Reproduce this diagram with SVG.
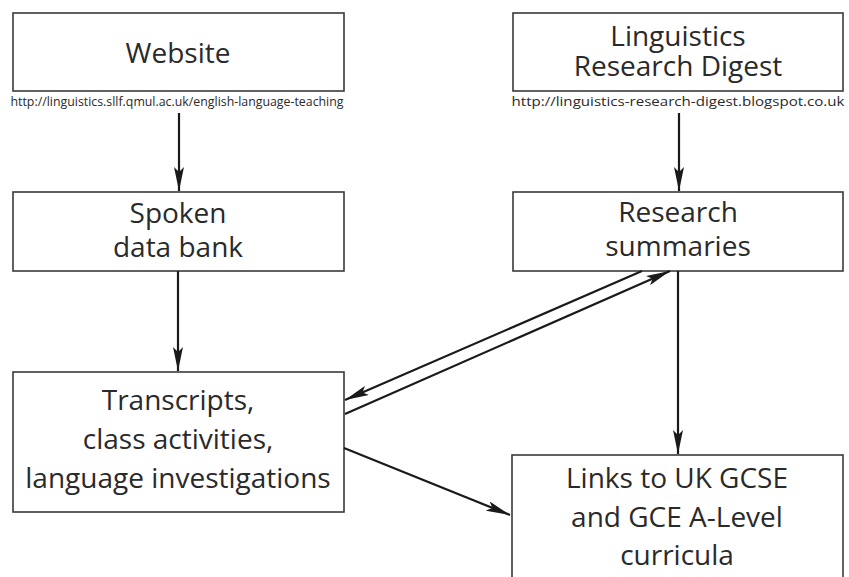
<svg xmlns="http://www.w3.org/2000/svg" width="849" height="577" viewBox="0 0 849 577">
<style>
.box{fill:#fff;stroke:#3a3a3a;stroke-width:1.6}
.t{font-family:"Open Sans","Liberation Sans",sans-serif;font-size:28px;fill:#2a2a2a;text-anchor:middle}
.u{font-family:"Open Sans","Liberation Sans",sans-serif;font-size:13px;fill:#2a2a2a;text-anchor:middle}
.c{stroke:#1a1a1a;stroke-width:2.2;fill:none}
</style>
<defs>
<marker id="ah" markerWidth="24" markerHeight="10" refX="24" refY="5" orient="auto" markerUnits="userSpaceOnUse">
<path d="M0,0 L24,5 L0,10 L5,5 Z" fill="#1a1a1a"/>
</marker>
</defs>
<rect width="849" height="577" fill="#fff"/>
<g id="website">
<rect class="box" x="13" y="13" width="331" height="78"/>
<text class="t" x="178" y="63">Website</text>
<text class="u" x="177" y="106" textLength="333" lengthAdjust="spacingAndGlyphs">http://linguistics.sllf.qmul.ac.uk/english-language-teaching</text>
</g>
<g id="digest">
<rect class="box" x="513" y="13" width="330" height="78"/>
<text class="t" x="678" y="46">Linguistics</text>
<text class="t" x="678" y="76">Research Digest</text>
<text class="u" x="678" y="106" textLength="333" lengthAdjust="spacingAndGlyphs">http://linguistics-research-digest.blogspot.co.uk</text>
</g>
<g id="spoken">
<rect class="box" x="13" y="192" width="331" height="79"/>
<text class="t" x="178" y="223">Spoken</text>
<text class="t" x="178" y="257">data bank</text>
</g>
<g id="summaries">
<rect class="box" x="513" y="192" width="330" height="79"/>
<text class="t" x="678" y="222">Research</text>
<text class="t" x="678" y="256">summaries</text>
</g>
<g id="transcripts">
<rect class="box" x="13" y="372" width="331" height="140"/>
<text class="t" x="178" y="410">Transcripts,</text>
<text class="t" x="178" y="449">class activities,</text>
<text class="t" x="178" y="488">language investigations</text>
</g>
<g id="links">
<rect class="box" x="512" y="455" width="331" height="140"/>
<text class="t" x="677" y="488">Links to UK GCSE</text>
<text class="t" x="677" y="527">and GCE A-Level</text>
<text class="t" x="677" y="565">curricula</text>
</g>
<g id="connectors">
<line class="c" x1="179" y1="113" x2="179" y2="191" marker-end="url(#ah)"/>
<line class="c" x1="679" y1="113" x2="679" y2="191" marker-end="url(#ah)"/>
<line class="c" x1="178" y1="271" x2="178" y2="371" marker-end="url(#ah)"/>
<line class="c" x1="678" y1="271" x2="678" y2="454" marker-end="url(#ah)"/>
<line class="c" x1="642" y1="271" x2="345" y2="400" marker-end="url(#ah)"/>
<line class="c" x1="345" y1="414" x2="670" y2="271" marker-end="url(#ah)"/>
<line class="c" x1="344" y1="448" x2="510" y2="515" marker-end="url(#ah)"/>
</g>
</svg>
